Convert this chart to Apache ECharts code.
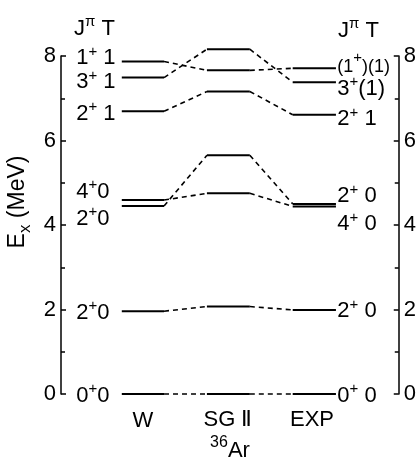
<!DOCTYPE html>
<html>
<head>
<meta charset="utf-8">
<script src="https://cdn.jsdelivr.net/npm/echarts@6/dist/echarts.min.js"></script>
<style>
html,body{margin:0;padding:0;background:#fff;}
#c{width:419px;height:467px;}
</style>
</head>
<body>
<div id="c"></div>
<script>
// ---- data ----
const columns = ['W', 'SG Ⅱ', 'EXP'];
const nucleus = 'Ar';
const massNumber = '36';
const yTicks = [0, 2, 4, 6, 8];
// states order: 0+0, 2+0, 2+0(2nd), 4+0, 2+1, 3+1, 1+1
const wSpin   = ['0', '2', '2', '4', '2', '3', '1'];
const wIso    = ['0', '0', '0', '0', '1', '1', '1'];
const wEnergy   = [0, 1.96, 4.45, 4.59, 6.69, 7.49, 7.87];
const sgEnergy  = [0, 2.07, 5.65, 4.75, 7.16, 8.16, 7.66];
const expEnergy = [0, 1.99, 4.50, 4.44, 6.61, 7.38, 7.71];
const expSpin = ['0', '2', '2', '4', '2', '3', '(1'];
const expSpinClose = ['', '', '', '', '', '', ')'];
const expIso  = [' 0', ' 0', ' 0', ' 0', ' 1', '(1)', '(1)'];

// ---- layout (x in axis units 0..10) ----
const colX = [[1.80, 3.05], [4.32, 5.59], [6.86, 8.14]];
const leftLabelX = 0.45;
const rightLabelX = 8.18;
const leftDy  = [0, 0, 11, -10, 1, 3, -5];
const rightDy = [0, 0, -9, 16, 3, 5, -5];

const energies = [wEnergy, sgEnergy, expEnergy];
const FONT = '"Liberation Sans", Arial, sans-serif';
const FS = 22;
const rich = {
  n: {fontSize: FS, fontFamily: FONT, color: '#000', lineHeight: 25, verticalAlign: 'bottom'},
  p: {fontSize: 18, fontFamily: FONT, color: '#000', lineHeight: 25, verticalAlign: 'bottom'},
  s: {fontSize: 15, fontFamily: FONT, color: '#000', lineHeight: 25, verticalAlign: 'top'}
};

const series = [];
// level bars
energies.forEach((arr, c) => {
  arr.forEach(e => {
    series.push({type: 'line', silent: true, symbol: 'none', animation: false, clip: false,
      data: [[colX[c][0], e], [colX[c][1], e]],
      lineStyle: {color: '#000', width: 2, type: 'solid'}});
  });
});
// connectors
for (let c = 0; c < 2; c++) {
  energies[c].forEach((e, i) => {
    series.push({type: 'line', silent: true, symbol: 'none', animation: false, clip: false,
      data: [[colX[c][1], e], [colX[c + 1][0], energies[c + 1][i]]],
      lineStyle: {color: '#000', width: 1.6, type: [5, 4]}});
  });
}
// labels
const labelData = [];
wEnergy.forEach((e, i) => {
  labelData.push({value: [leftLabelX, e],
    label: {offset: [0, leftDy[i]], formatter: '{n|' + wSpin[i] + '}{s|+}{n|' + (wIso[i] === '1' ? ' ' : '') + wIso[i] + '}'}});
});
expEnergy.forEach((e, i) => {
  const style = expSpin[i].indexOf('(') >= 0 ? 'p' : 'n';
  labelData.push({value: [rightLabelX, e],
    label: {offset: [0, rightDy[i]], formatter: '{' + style + '|' + expSpin[i] + '}{s|+}{' + style + '|' + expSpinClose[i] + expIso[i] + '}'}});
});
series.push({type: 'scatter', symbolSize: 0, silent: true, animation: false, clip: false,
  data: labelData,
  label: {show: true, position: 'right', distance: 0, color: '#000', opacity: 1, rich: rich}});

const chart = echarts.init(document.getElementById('c'));
const yAxisBase = {
  type: 'value', min: yTicks[0], max: yTicks[yTicks.length - 1], interval: yTicks[1] - yTicks[0],
  axisLine: {show: true, lineStyle: {color: '#000', width: 1.5}},
  axisTick: {show: true, inside: true, length: 5, lineStyle: {color: '#000', width: 1.5}},
  minorTick: {show: true, splitNumber: 2, length: 4, lineStyle: {color: '#000', width: 1.5}},
  splitLine: {show: false},
  axisLabel: {color: '#000', fontSize: FS, fontFamily: FONT, margin: 5}
};
chart.setOption({
  animation: false,
  grid: {left: 61, right: 20, top: 56, bottom: 73},
  xAxis: {type: 'value', min: 0, max: 10, show: false},
  yAxis: [Object.assign({position: 'left'}, yAxisBase), Object.assign({position: 'right'}, yAxisBase)],
  series: series,
  graphic: [
    {type: 'text', x: 20, y: 202, rotation: Math.PI / 2,
      style: {text: '{a|E}{b|x}{a| (MeV)}', align: 'center', verticalAlign: 'middle',
        rich: {a: {fontSize: 23, fontFamily: FONT, fill: '#000', lineHeight: 28, verticalAlign: 'top'},
               b: {fontSize: 17, fontFamily: FONT, fill: '#000', lineHeight: 28, verticalAlign: 'bottom'}}}},
    {type: 'text', x: 74, y: 27,
      style: {text: '{n|J}{s|π}{n| T}', verticalAlign: 'middle', rich: rich}},
    {type: 'text', x: 338, y: 29,
      style: {text: '{n|J}{s|π}{n| T}', verticalAlign: 'middle', rich: rich}},
    {type: 'text', x: 143, y: 421,
      style: {text: columns[0], align: 'center', verticalAlign: 'middle', font: FS + 'px ' + FONT, fill: '#000'}},
    {type: 'text', x: 228, y: 420,
      style: {text: columns[1], align: 'center', verticalAlign: 'middle', font: FS + 'px ' + FONT, fill: '#000'}},
    {type: 'text', x: 312, y: 420,
      style: {text: columns[2], align: 'center', verticalAlign: 'middle', font: FS + 'px ' + FONT, fill: '#000'}},
    {type: 'text', x: 230, y: 448,
      style: {text: '{s|' + massNumber + '}{n|' + nucleus + '}', align: 'center', verticalAlign: 'middle',
        rich: {n: {fontSize: FS, fontFamily: FONT, fill: '#000', lineHeight: 27, verticalAlign: 'bottom'},
               s: {fontSize: 16, fontFamily: FONT, fill: '#000', lineHeight: 27, verticalAlign: 'top'}}}}
  ]
});
</script>
</body>
</html>
